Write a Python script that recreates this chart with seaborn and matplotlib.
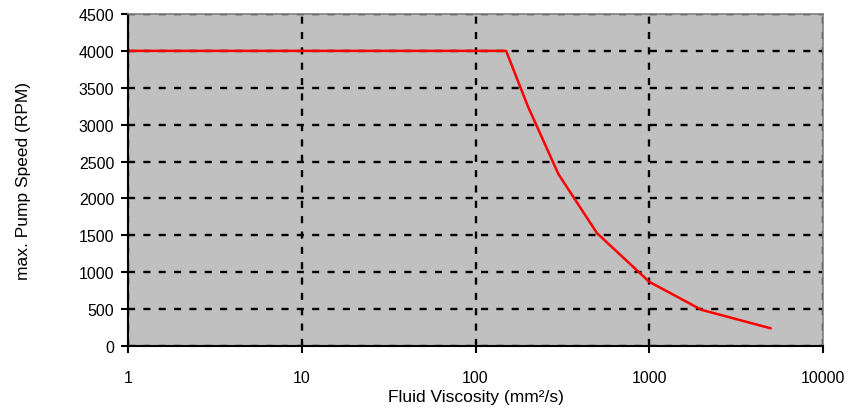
import numpy as np
import pandas as pd
import matplotlib
matplotlib.use("Agg")
import matplotlib.pyplot as plt
import seaborn as sns

# data
viscosity = [1, 150, 200, 300, 500, 1000, 2000, 5000]
max_speed = [4000, 4000, 3250, 2330, 1530, 870, 490, 240]
x_ticks = [1, 10, 100, 1000, 10000]
y_ticks = list(range(0, 4501, 500))

df = pd.DataFrame({"visc": viscosity, "rpm": max_speed})

sns.set_theme(style="white")
plt.rcParams['font.family'] = ['Liberation Sans', 'DejaVu Sans']
plt.rcParams['text.color'] = 'black'
plt.rcParams['axes.labelcolor'] = 'black'
plt.rcParams['xtick.color'] = 'black'
plt.rcParams['ytick.color'] = 'black'

fig = plt.figure(figsize=(8.49, 4.14), dpi=100)
ax = fig.add_axes([0.1508, 0.1618, 0.8186, 0.802])
ax.set_facecolor("#c0c0c0")

sns.lineplot(data=df, x="visc", y="rpm", color="red", linewidth=1.8, ax=ax)

ax.set_xscale("log")
ax.set_xlim(1, 10000)
ax.set_ylim(0, 4500)
ax.set_xticks(x_ticks)
ax.set_xticklabels([str(t) for t in x_ticks])
ax.minorticks_off()
ax.set_yticks(y_ticks)

ax.grid(True, color="black", linestyle=(0, (3, 3.5)), linewidth=1.7)
ax.set_axisbelow(True)

for s in ["left", "bottom"]:
    ax.spines[s].set_color("black")
    ax.spines[s].set_linewidth(1.5)
for s in ["top", "right"]:
    ax.spines[s].set_color("#808080")
    ax.spines[s].set_linewidth(1.2)

ax.tick_params(axis="both", direction="out", length=5, width=1.5,
               labelsize=11.5, bottom=True, left=True)
ax.tick_params(axis="x", pad=12)
ax.tick_params(axis="y", pad=5)
ax.set_xlabel("Fluid Viscosity (mm²/s)", fontsize=12.5, labelpad=3)
ax.set_ylabel("max. Pump Speed (RPM)", fontsize=12.5, labelpad=34)

fig.savefig("out.png", dpi=100)
